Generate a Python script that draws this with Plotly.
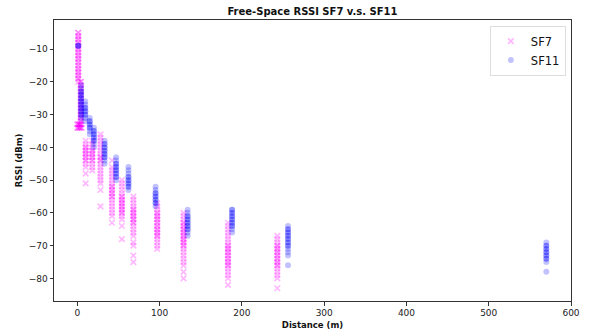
import plotly.graph_objects as go

# ---- data (distance in m, RSSI in dBm) ----
sf7_distance = [1, 4, 0, 2, 3, 5, 10, 18, 28, 42, 54, 68, 97, 129, 183, 243]
sf7_rssi = [
    [-5, -5, -6, -6, -7, -7, -8, -8, -9, -9, -10, -10, -11, -11, -12, -12, -13, -13,
     -14, -14, -15, -15, -16, -16, -17, -17, -18, -18, -19, -19, -20],
    [-20, -20, -21, -21, -22, -22, -23, -23, -24, -24, -25, -25, -26, -26, -27, -27,
     -28, -28, -29, -29, -30, -30, -31, -31, -32, -32, -33],
    [-33, -33, -34, -34],
    [-33, -33, -34, -34],
    [-33, -33, -34, -34],
    [-33, -34, -34],
    [-38, -39, -40, -40, -41, -41, -42, -42, -43, -43, -44, -44, -45, -46, -48, -51],
    [-38, -39, -40, -41, -41, -42, -42, -43, -43, -44, -44, -45, -46, -47],
    [-36, -37, -38, -39, -40, -41, -42, -43, -43, -44, -44, -45, -46, -47, -48, -49,
     -50, -51, -53, -58],
    [-44, -46, -47, -48, -49, -50, -51, -52, -52, -53, -53, -54, -54, -55, -55, -56,
     -57, -58, -59, -60, -61, -63],
    [-50, -51, -52, -53, -54, -55, -55, -56, -56, -57, -57, -58, -58, -59, -59, -60,
     -60, -61, -62, -64, -68],
    [-55, -56, -57, -58, -59, -59, -60, -60, -61, -61, -62, -62, -63, -63, -64, -65,
     -66, -67, -69, -70, -73, -75],
    [-57, -58, -59, -60, -60, -61, -61, -62, -62, -63, -63, -64, -64, -65, -65, -66,
     -66, -67, -67, -68, -69, -70, -71],
    [-60, -61, -62, -63, -63, -64, -64, -65, -65, -66, -66, -67, -67, -68, -68, -69,
     -69, -70, -70, -71, -72, -73, -74, -75, -76, -78, -80],
    [-63, -64, -65, -66, -67, -68, -69, -70, -70, -71, -71, -72, -72, -73, -73, -74,
     -74, -75, -75, -76, -76, -77, -78, -79, -80, -82],
    [-67, -68, -69, -70, -70, -71, -71, -72, -72, -73, -73, -74, -74, -75, -75, -76,
     -76, -77, -78, -79, -80, -83],
]

sf11_distance = [1, 4.5, 9.5, 15, 20, 33, 47, 62, 95, 134, 188, 256, 570]
sf11_rssi = [
    [-9, -9, -9],
    [-21, -22, -23, -23, -24, -24, -25, -25, -26, -26, -27, -27, -28, -28, -29, -29,
     -30, -30, -31],
    [-26, -27, -28, -28, -29, -29, -30, -30, -31, -32],
    [-31, -32, -32, -33, -33, -34, -34, -35, -36],
    [-34, -35, -35, -36, -36, -37, -37, -38, -38, -39, -40],
    [-38, -39, -39, -40, -40, -41, -41, -42, -42, -43, -43, -44, -45],
    [-43, -44, -45, -45, -46, -46, -47, -47, -48, -48, -49, -49, -50],
    [-46, -47, -48, -49, -49, -50, -50, -51, -51, -52, -52, -53],
    [-52, -53, -54, -54, -55, -55, -56, -56, -57, -57, -58],
    [-59, -60, -61, -61, -62, -62, -63, -63, -64, -64, -65, -65, -66, -67],
    [-59, -59, -60, -60, -61, -61, -62, -62, -63, -63, -64, -64, -65, -66],
    [-64, -65, -65, -66, -66, -67, -67, -68, -68, -69, -69, -70, -70, -71, -72, -73,
     -76],
    [-69, -70, -70, -71, -71, -72, -72, -73, -73, -74, -74, -75, -78],
]

x_ticks = [0, 100, 200, 300, 400, 500, 600]
y_ticks = [-10, -20, -30, -40, -50, -60, -70, -80]


def flatten(dists, vals):
    xs, ys = [], []
    for d, vs in zip(dists, vals):
        for v in vs:
            xs.append(d)
            ys.append(v)
    return xs, ys


x7, y7 = flatten(sf7_distance, sf7_rssi)
x11, y11 = flatten(sf11_distance, sf11_rssi)

FONT = "DejaVu Sans"

fig = go.Figure()
fig.add_trace(go.Scatter(
    x=x7, y=y7, mode="markers", name="SF7",
    marker=dict(symbol="x-thin", size=5.5, color="rgba(255,0,255,0.28)",
                line=dict(width=1.7, color="rgba(255,0,255,0.28)")),
))
fig.add_trace(go.Scatter(
    x=x11, y=y11, mode="markers", name="SF11",
    marker=dict(symbol="circle", size=6, color="rgba(0,0,255,0.24)",
                line=dict(width=0)),
))

axis_common = dict(
    showline=True, linecolor="#333333", linewidth=1, mirror=True,
    ticks="outside", ticklen=3.5, tickwidth=1, tickcolor="#333333",
    showgrid=False, zeroline=False, automargin=False,
    tickfont=dict(family=FONT, size=9, color="#222222"),
)

fig.update_layout(
    width=591, height=331,
    margin=dict(l=54, r=20, t=20, b=30, autoexpand=False),
    paper_bgcolor="white", plot_bgcolor="white",
    title=dict(text="<b>Free-Space RSSI SF7 v.s. SF11</b>", x=0.5287, xanchor="center",
               y=0.964, yanchor="middle",
               font=dict(family=FONT, size=10, color="#111111")),
    xaxis=dict(range=[-28.5, 600], tickvals=x_ticks,
               title=dict(text="<b>Distance (m)</b>", standoff=4,
                          font=dict(family=FONT, size=8.5, color="#111111")),
               **axis_common),
    yaxis=dict(range=[-86.9, -1.1], tickvals=y_ticks,
               title=dict(text="<b>RSSI (dBm)</b>", standoff=4,
                          font=dict(family=FONT, size=8.5, color="#111111")),
               **axis_common),
    legend=dict(x=0.99, y=0.98, xanchor="right", yanchor="top",
                bgcolor="white", bordercolor="#dddddd", borderwidth=1,
                font=dict(family=FONT, size=11.5, color="#111111"),
                tracegroupgap=0),
    showlegend=True,
)

fig.write_html("out.html")
